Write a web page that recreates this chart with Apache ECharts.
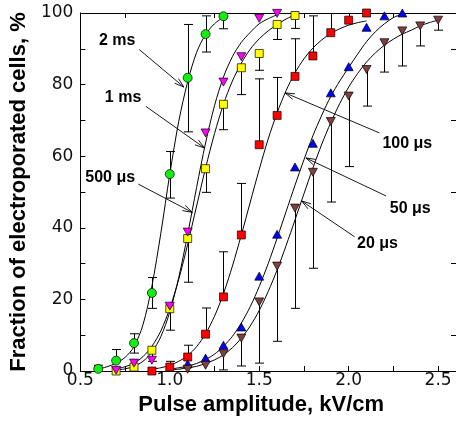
<!DOCTYPE html>
<html lang="en">
<head>
    <meta charset="UTF-8">
    <title>Electroporation vs pulse amplitude</title>
    <script src="https://cdn.jsdelivr.net/npm/echarts@6/dist/echarts.min.js"></script>
    <style>
        html, body { margin: 0; padding: 0; background: #fff; }
        #chart { width: 456px; height: 423px; }
    </style>
</head>
<body>
<div id="chart"></div>
<script>
    // axis ticks / labels
    var xTicks = [0.5, 0.75, 1.0, 1.25, 1.5, 1.75, 2.0, 2.25, 2.5];
    var xLabels = [0.5, 1.0, 1.5, 2.0, 2.5];
    var topTicks = [0.75, 1.25, 1.75, 2.25];
    var yTicks = [0, 10, 20, 30, 40, 50, 60, 70, 80, 90, 100];
    var yLabels = [0, 20, 40, 60, 80, 100];
    var rightTicks = [10, 30, 50, 70, 90];

    // measured points (kV/cm, %)
    var ms2X = [0.6, 0.7, 0.8, 0.9, 1.0, 1.1, 1.2, 1.3];
    var ms2Y = [0.6, 2.9, 7.8, 21.8, 55.0, 81.9, 94.1, 99.1];
    var ms2Lo = [null, null, 5.0, 17.5, 48.3, 66.8, 89.1, 95.6];
    var ms2Hi = [1.6, 6.0, 10.4, 26.1, 61.3, 96.8, 99.2, null];

    var ms1X = [0.7, 0.8, 0.9, 1.0, 1.1, 1.2, 1.3, 1.4, 1.5, 1.6];
    var ms1Y = [0.2, 2.2, 3.0, 18.1, 38.8, 66.5, 80.7, 87.8, 98.5, 99.9];

    var us500X = [0.7, 0.8, 0.9, 1.0, 1.1, 1.2, 1.3, 1.4, 1.5, 1.6, 1.7];
    var us500Y = [0.0, 1.1, 5.8, 17.4, 37.0, 56.5, 74.5, 84.7, 88.7, 96.8, 99.3];
    var us500Lo = [null, null, 2.7, 11.4, 24.8, 49.9, 67.4, 77.2, 84.0, 92.6, 95.7];

    var us100X = [0.9, 1.0, 1.1, 1.2, 1.3, 1.4, 1.5, 1.6, 1.7, 1.8, 1.9, 2.0, 2.1];
    var us100Y = [0.0, 1.1, 3.9, 10.3, 20.7, 38.0, 63.2, 71.4, 82.3, 88.0, 94.5, 98.0, 100.0];
    var us100Hi = [null, 2.7, 7.2, 17.6, 33.3, 52.4, 81.6, 82.0, 92.8, 99.2, 100.0, 100.0, null];

    var us50X = [1.1, 1.2, 1.3, 1.4, 1.5, 1.6, 1.7, 1.8, 1.9, 2.0, 2.1, 2.2, 2.3];
    var us50Y = [2.0, 3.6, 7.2, 12.3, 26.5, 38.2, 57.0, 63.6, 77.7, 85.0, 96.0, 99.2, 100.0];

    var us20X = [1.1, 1.2, 1.3, 1.4, 1.5, 1.6, 1.7, 1.8, 1.9, 2.0, 2.1, 2.2, 2.3, 2.4, 2.5];
    var us20Y = [0.5, 1.6, 4.8, 9.2, 19.3, 29.3, 45.5, 55.5, 69.7, 76.8, 84.2, 91.7, 95.0, 96.4, 98.0];
    var us20Lo = [null, null, 0.3, 1.4, 2.2, 8.3, 17.5, 28.7, 47.2, 57.1, 74.0, 83.5, 85.2, 90.8, 95.2];

    // fitted curves
    var ms2FitX = [0.60, 0.65, 0.70, 0.75, 0.80, 0.85, 0.90, 0.95, 1.00, 1.05, 1.10, 1.15, 1.20, 1.25, 1.30];
    var ms2FitY = [0.6, 1.2, 2.2, 3.8, 6.8, 12.9, 23.7, 38.5, 55.0, 69.7, 80.8, 89.0, 94.0, 97.0, 98.8];

    var ms1FitX = [0.70, 0.75, 0.80, 0.85, 0.90, 0.95, 1.00, 1.05, 1.10, 1.15, 1.20, 1.25, 1.30, 1.35, 1.40, 1.45, 1.50, 1.55, 1.60];
    var ms1FitY = [0.3, 0.6, 1.3, 2.7, 5.3, 9.6, 16.5, 26.1, 38.2, 51.3, 63.7, 74.1, 82.1, 87.8, 91.8, 94.6, 97.0, 98.4, 99.5];

    var us500FitX = [0.70, 0.75, 0.80, 0.85, 0.90, 0.95, 1.00, 1.05, 1.10, 1.15, 1.20, 1.25, 1.30, 1.35, 1.40, 1.45, 1.50, 1.55, 1.60, 1.65, 1.70];
    var us500FitY = [0.6, 1.2, 2.2, 4.0, 6.9, 11.2, 17.5, 25.6, 35.4, 46.1, 56.7, 66.3, 74.5, 81.0, 86.0, 89.9, 92.8, 95.0, 96.8, 98.3, 99.5];

    var us100FitX = [0.90, 0.95, 1.00, 1.05, 1.10, 1.15, 1.20, 1.25, 1.30, 1.35, 1.40, 1.45, 1.50, 1.55, 1.60, 1.65, 1.70, 1.75, 1.80, 1.85, 1.90, 1.95, 2.00, 2.05, 2.10];
    var us100FitY = [0.5, 0.9, 1.6, 2.7, 4.3, 6.8, 10.4, 15.3, 21.6, 29.3, 38.0, 47.2, 56.3, 64.8, 72.1, 78.3, 83.3, 87.2, 90.2, 92.5, 94.3, 95.6, 96.6, 97.3, 97.8];

    var us50FitX = [1.00, 1.05, 1.10, 1.15, 1.20, 1.25, 1.30, 1.35, 1.40, 1.45, 1.50, 1.55, 1.60, 1.65, 1.70, 1.75, 1.80, 1.85, 1.90, 1.95, 2.00, 2.05, 2.10, 2.15, 2.20, 2.25, 2.30];
    var us50FitY = [0.5, 0.9, 1.4, 2.1, 3.2, 4.7, 6.9, 9.7, 13.4, 18.0, 23.6, 30.0, 37.1, 44.5, 51.9, 59.0, 65.7, 71.5, 76.7, 81.0, 84.8, 88.5, 92.0, 94.8, 97.0, 98.7, 99.8];

    var us20FitX = [1.00, 1.05, 1.10, 1.15, 1.20, 1.25, 1.30, 1.35, 1.40, 1.45, 1.50, 1.55, 1.60, 1.65, 1.70, 1.75, 1.80, 1.85, 1.90, 1.95, 2.00, 2.05, 2.10, 2.15, 2.20, 2.25, 2.30, 2.35, 2.40, 2.45, 2.50];
    var us20FitY = [0.3, 0.5, 0.9, 1.3, 2.1, 3.1, 4.5, 6.5, 9.2, 12.6, 16.9, 22.2, 28.2, 35.0, 42.2, 49.5, 56.7, 63.4, 69.4, 74.7, 79.3, 83.1, 86.3, 88.9, 91.0, 92.7, 94.1, 95.2, 96.4, 97.3, 98.0];

    // pulse-length labels with arrows: text centre, arrow start, arrow tip
    var noteText = ['2 ms', '1 ms', '500 \u03bcs', '100 \u03bcs', '50 \u03bcs', '20 \u03bcs'];
    var noteAt = [[0.706, 92.3], [0.739, 76.4], [0.667, 54.0], [2.328, 63.5], [2.344, 45.3], [2.161, 35.5]];
    var arrowFrom = [[0.829, 89.8], [0.867, 73.9], [0.824, 52.2], [2.172, 66.5], [2.209, 48.9], [2.033, 37.5]];
    var arrowTo = [[1.079, 79.3], [1.194, 62.3], [1.126, 44.3], [1.644, 77.7], [1.761, 59.5], [1.737, 47.5]];

    var FONT = '"Liberation Sans", Arial, sans-serif';
    var TICKFONT = '"DejaVu Sans", sans-serif';

    function pairs(xs, ys) {
        return xs.map(function (x, i) { return [x, ys[i]]; });
    }

    function fitLine(xs, ys) {
        return {
            type: 'line', z: 2, silent: true, data: pairs(xs, ys),
            showSymbol: false, smooth: 0.3,
            lineStyle: { color: '#000', width: 1 }
        };
    }

    function errBars(xs, ys, lo, hi) {
        var rows = [];
        for (var i = 0; i < xs.length; i++) {
            var l = lo[i], h = hi[i];
            if (l == null && h == null) continue;
            rows.push([xs[i], l == null ? ys[i] : l, h == null ? ys[i] : h, l == null ? 0 : 1, h == null ? 0 : 1]);
        }
        return {
            type: 'custom', z: 3, silent: true, clip: true, data: rows,
            renderItem: function (params, api) {
                var a = api.coord([api.value(0), api.value(1)]);
                var b = api.coord([api.value(0), api.value(2)]);
                var x = Math.round(a[0]) + 0.5;
                var st = { stroke: '#000', lineWidth: 1 };
                var kids = [{ type: 'line', shape: { x1: x, y1: a[1], x2: x, y2: b[1] }, style: st }];
                if (api.value(3)) kids.push({ type: 'line', shape: { x1: x - 4.5, y1: a[1], x2: x + 4.5, y2: a[1] }, style: st });
                if (api.value(4)) kids.push({ type: 'line', shape: { x1: x - 4.5, y1: b[1], x2: x + 4.5, y2: b[1] }, style: st });
                return { type: 'group', children: kids };
            }
        };
    }

    function marks(xs, ys, symbol, color, size, rotate) {
        return {
            type: 'scatter', z: 4, data: pairs(xs, ys),
            symbol: symbol, symbolSize: size, symbolRotate: rotate || 0,
            itemStyle: { color: color, borderColor: '#000', borderWidth: 0.7, opacity: 1 }
        };
    }

    var notes = {
        type: 'custom', z: 5, silent: true, clip: false,
        data: noteAt.map(function (p, i) {
            return [p[0], p[1], arrowFrom[i][0], arrowFrom[i][1], arrowTo[i][0], arrowTo[i][1]];
        }),
        renderItem: function (params, api) {
            var t = api.coord([api.value(0), api.value(1)]);
            var s = api.coord([api.value(2), api.value(3)]);
            var e = api.coord([api.value(4), api.value(5)]);
            var dx = s[0] - e[0], dy = s[1] - e[1];
            var len = Math.sqrt(dx * dx + dy * dy);
            var ux = dx / len, uy = dy / len;
            var L = 10, ang = 0.3;
            var c = Math.cos(ang), sn = Math.sin(ang);
            var h1 = [e[0] + L * (ux * c - uy * sn), e[1] + L * (ux * sn + uy * c)];
            var h2 = [e[0] + L * (ux * c + uy * sn), e[1] + L * (-ux * sn + uy * c)];
            var st = { stroke: '#000', lineWidth: 0.9 };
            return {
                type: 'group',
                children: [
                    { type: 'text', style: { text: noteText[params.dataIndex], x: t[0], y: t[1], fill: '#000',
                        font: 'bold 16px ' + FONT, align: 'center', verticalAlign: 'middle' } },
                    { type: 'line', shape: { x1: s[0], y1: s[1], x2: e[0], y2: e[1] }, style: st },
                    { type: 'line', shape: { x1: h1[0], y1: h1[1], x2: e[0], y2: e[1] }, style: st },
                    { type: 'line', shape: { x1: h2[0], y1: h2[1], x2: e[0], y2: e[1] }, style: st }
                ]
            };
        }
    };

    var axisLine = { show: true, onZero: false, lineStyle: { color: '#000', width: 1 } };

    var option = {
        animation: false,
        grid: { left: 79, right: -1, top: 13, bottom: 52 },
        xAxis: [{
            type: 'value', min: 0.5, max: 2.6, position: 'bottom',
            axisLine: axisLine,
            axisTick: { inside: true, length: 5, customValues: xTicks, lineStyle: { color: '#000' } },
            axisLabel: { customValues: xLabels, formatter: function (v) { return v.toFixed(1); },
                color: '#111', fontSize: 17, fontFamily: TICKFONT, margin: 1 },
            splitLine: { show: false },
            name: 'Pulse amplitude, kV/cm', nameLocation: 'middle', nameGap: 17,
            nameTextStyle: { color: '#000', fontSize: 22, fontWeight: 'bold', fontFamily: FONT, padding: [0, 14, 0, 0] }
        }, {
            type: 'value', min: 0.5, max: 2.6, position: 'top',
            axisLine: axisLine,
            axisTick: { inside: true, length: 5, customValues: topTicks, lineStyle: { color: '#000' } },
            axisLabel: { show: false },
            splitLine: { show: false }
        }],
        yAxis: [{
            type: 'value', min: 0, max: 100, position: 'left',
            axisLine: axisLine,
            axisTick: { inside: true, length: 5, customValues: yTicks, lineStyle: { color: '#000' } },
            axisLabel: { customValues: yLabels, color: '#111', fontSize: 17, fontFamily: TICKFONT, margin: 7 },
            splitLine: { show: false },
            name: 'Fraction of electroporated cells, %', nameLocation: 'middle', nameGap: 44,
            nameTextStyle: { color: '#000', fontSize: 22, fontWeight: 'bold', fontFamily: FONT }
        }, {
            type: 'value', min: 0, max: 100, position: 'right',
            axisLine: axisLine,
            axisTick: { inside: true, length: 5, customValues: rightTicks, lineStyle: { color: '#000' } },
            axisLabel: { show: false },
            splitLine: { show: false }
        }],
        series: [
            fitLine(ms2FitX, ms2FitY),
            fitLine(ms1FitX, ms1FitY),
            fitLine(us500FitX, us500FitY),
            fitLine(us100FitX, us100FitY),
            fitLine(us50FitX, us50FitY),
            fitLine(us20FitX, us20FitY),
            errBars(ms2X, ms2Y, ms2Lo, ms2Hi),
            errBars(us500X, us500Y, us500Lo, []),
            errBars(us100X, us100Y, [], us100Hi),
            errBars(us20X, us20Y, us20Lo, []),
            marks(ms2X, ms2Y, 'circle', '#11ee11', 9),
            marks(us500X, us500Y, 'rect', '#ffff00', 8),
            marks(ms1X, ms1Y, 'triangle', '#ff00ff', [9, 8], 180),
            marks(us100X, us100Y, 'rect', '#ff0000', 8),
            marks(us50X, us50Y, 'triangle', '#0000ff', [9, 8]),
            marks(us20X, us20Y, 'triangle', '#804040', [9, 8], 180),
            notes
        ]
    };

    var myChart = echarts.init(document.getElementById('chart'));
    myChart.setOption(option);
</script>
</body>
</html>
